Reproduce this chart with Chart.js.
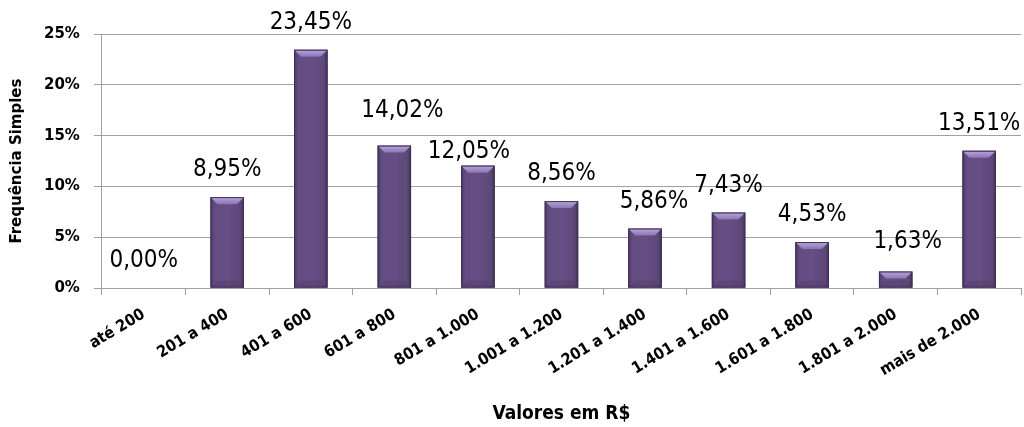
<!DOCTYPE html>
<html lang="pt">

<head>
    <meta charset="UTF-8">
    <title>Frequência Simples</title>
    <script src="https://cdn.jsdelivr.net/npm/chart.js"></script>
    <style>
        body { margin: 0; background: #fff; }
        #wrap { width: 1024px; height: 427px; }
    </style>
</head>

<body>
    <div id="wrap">
        <canvas id="myChart"></canvas>
    </div>
    <script>
        // data
        const categories = ['até 200', '201 a 400', '401 a 600', '601 a 800', '801 a 1.000', '1.001 a 1.200',
            '1.201 a 1.400', '1.401 a 1.600', '1.601 a 1.800', '1.801 a 2.000', 'mais de 2.000'];
        const frequencia = [0.00, 8.95, 23.45, 14.02, 12.05, 8.56, 5.86, 7.43, 4.53, 1.63, 13.51];
        const yTicks = [0, 5, 10, 15, 20, 25];

        // nudges for the labels that were moved by hand in the original
        const labelShift = [[0, 0], [0, 0], [0, 0], [8, -8], [-9, 13], [0, 0], [9, 0], [0, 0], [0, 0], [12, -3], [0, 0]];

        const condensed = '"DejaVu Sans Condensed", "DejaVu Sans", sans-serif';

        const bevelPlugin = {
            id: 'bevel',
            afterDatasetsDraw(chart) {
                const c = chart.ctx;
                chart.getDatasetMeta(0).data.forEach((bar, i) => {
                    if (frequencia[i] <= 0) return;
                    const l = bar.x - bar.width / 2, r = bar.x + bar.width / 2;
                    const t = bar.y, b = bar.base;
                    const h = Math.min(7, (b - t) / 2);
                    c.save();
                    // body shading
                    const g = c.createLinearGradient(l, 0, r, 0);
                    g.addColorStop(0, '#4d3a66');
                    g.addColorStop(0.12, '#624c80');
                    g.addColorStop(0.5, '#664f85');
                    g.addColorStop(0.88, '#5e4879');
                    g.addColorStop(1, '#45345c');
                    c.fillStyle = g;
                    c.fillRect(l, t, r - l, b - t);
                    // top bevel
                    const gt = c.createLinearGradient(0, t, 0, t + h);
                    gt.addColorStop(0, '#b9a6dc');
                    gt.addColorStop(1, '#8c74b4');
                    c.fillStyle = gt;
                    c.beginPath();
                    c.moveTo(l, t);
                    c.lineTo(r, t);
                    c.lineTo(r - h, t + h);
                    c.lineTo(l + h, t + h);
                    c.closePath();
                    c.fill();
                    // bottom bevel
                    c.fillStyle = 'rgba(40,28,56,0.12)';
                    c.beginPath();
                    c.moveTo(l, b);
                    c.lineTo(r, b);
                    c.lineTo(r - h, b - h);
                    c.lineTo(l + h, b - h);
                    c.closePath();
                    c.fill();
                    c.strokeStyle = '#3e2e52';
                    c.lineWidth = 1;
                    c.strokeRect(l + 0.5, t + 0.5, r - l - 1, b - t - 1);
                    c.restore();
                });
            }
        };

        const valueLabels = {
            id: 'valueLabels',
            afterDraw(chart) {
                const c = chart.ctx;
                c.save();
                c.font = '24px ' + condensed;
                c.fillStyle = '#000';
                c.textAlign = 'center';
                c.textBaseline = 'middle';
                chart.getDatasetMeta(0).data.forEach((bar, i) => {
                    const txt = frequencia[i].toFixed(2).replace('.', ',') + '%';
                    c.fillText(txt, bar.x + labelShift[i][0], bar.y - 27 + labelShift[i][1]);
                });
                c.restore();
            }
        };

        const ctx = document.getElementById('myChart').getContext('2d');
        const myChart = new Chart(ctx, {
            type: 'bar',
            data: {
                labels: categories,
                datasets: [{
                    label: 'Frequência Simples',
                    data: frequencia,
                    backgroundColor: '#604a7b',
                    categoryPercentage: 1,
                    barPercentage: 0.4
                }]
            },
            plugins: [bevelPlugin, valueLabels],
            options: {
                responsive: true,
                maintainAspectRatio: false,
                animation: false,
                layout: {
                    padding: { top: 34, right: 3, left: 4, bottom: 0 }
                },
                scales: {
                    x: {
                        grid: {
                            offset: true,
                            drawOnChartArea: false,
                            color: '#a0a0a0',
                            tickLength: 7
                        },
                        border: { color: '#a0a0a0' },
                        ticks: {
                            color: '#000',
                            minRotation: 31,
                            maxRotation: 31,
                            padding: 10,
                            font: { family: condensed, size: 16, weight: 'bold' }
                        },
                        title: {
                            display: true,
                            text: 'Valores em R$',
                            color: '#000',
                            padding: { top: 12, bottom: 2 },
                            font: { family: condensed, size: 19, weight: 'bold' }
                        }
                    },
                    y: {
                        min: 0,
                        max: 25,
                        afterBuildTicks(axis) {
                            axis.ticks = yTicks.map(v => ({ value: v }));
                        },
                        grid: {
                            color: '#a0a0a0',
                            tickLength: 8
                        },
                        border: { color: '#a0a0a0' },
                        ticks: {
                            color: '#000',
                            padding: 14,
                            callback: v => v + '%',
                            font: { family: 'DejaVu Sans', size: 15, weight: 'bold' }
                        },
                        title: {
                            display: true,
                            text: 'Frequência Simples',
                            color: '#000',
                            padding: { bottom: 4 },
                            font: { family: 'DejaVu Sans', size: 15, weight: 'bold' }
                        }
                    }
                },
                plugins: {
                    legend: { display: false },
                    tooltip: { enabled: false }
                }
            }
        });
    </script>
</body>

</html>
